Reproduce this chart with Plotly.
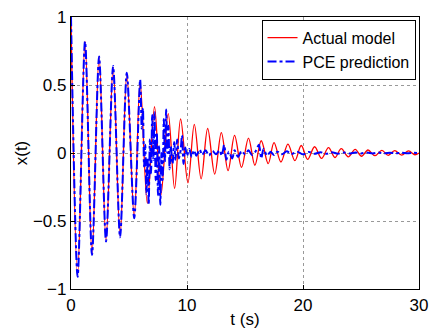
import plotly.graph_objects as go

# Actual model: extrema (time s, x(t))
red_t = [0.0, 0.57, 1.21, 1.81, 2.42, 3.02, 3.63, 4.23, 4.81, 5.45, 5.96, 6.58, 7.2, 7.75,
         8.38, 8.93, 9.45, 10.08, 10.63, 11.22, 11.78, 12.39, 12.96, 13.54, 14.1, 14.7,
         15.3, 15.85, 16.4, 17.0, 17.5, 18.1, 18.7, 19.3, 19.85, 20.4, 21.0, 21.6, 22.2,
         22.75, 23.3, 23.9, 24.5, 25.05, 25.6, 26.2, 26.8, 27.35, 27.9, 28.5, 29.1, 29.65, 30.0]
red_x = [1.0, -0.90, 0.82, -0.74, 0.71, -0.64, 0.63, -0.61, 0.58, -0.47, 0.52, -0.37, 0.34, -0.31,
         0.29, -0.26, 0.25, -0.22, 0.21, -0.19, 0.18, -0.155, 0.15, -0.13, 0.13, -0.105,
         0.11, -0.09, 0.09, -0.078, 0.077, -0.066, 0.065, -0.056, 0.055, -0.047, 0.046, -0.04, 0.039,
         -0.033, 0.032, -0.028, 0.027, -0.024, 0.022, -0.02, 0.019, -0.017, 0.017, -0.015, 0.015, -0.013, 0.0]

# PCE prediction
blue_t = [0.0, 0.57, 1.21, 1.81, 2.42, 3.02, 3.63, 4.23, 4.81, 5.45, 5.96,
          6.1, 6.2, 6.3, 6.4, 6.5, 6.6, 6.7, 6.8, 6.9, 7.0, 7.1, 7.2, 7.3, 7.4, 7.5, 7.6, 7.7,
          7.8, 7.9, 8.0, 8.1, 8.2, 8.3, 8.4, 8.5, 8.6, 8.75, 8.9, 9.0, 9.15, 9.3, 9.45, 9.57,
          9.7, 9.85, 10.0, 10.2, 10.4, 10.6, 10.8, 11.1, 11.3, 11.6, 11.9, 12.2, 12.5, 12.8,
          13.0, 13.2, 13.4, 13.6, 13.9, 14.1, 14.4, 14.7, 15.0, 15.3, 15.6, 15.9, 16.2, 16.4,
          16.6, 16.9, 17.2, 17.5, 17.8, 18.2, 18.6, 19.0, 19.5, 20.0, 20.5, 21.0, 21.5, 22.0,
          22.5, 23.0, 23.5, 24.0, 24.5, 25.0, 25.5, 26.0, 26.5, 27.0, 27.5, 28.0, 28.5, 29.0,
          29.5, 30.0]
blue_x = [1.0, -0.91, 0.82, -0.75, 0.71, -0.65, 0.64, -0.62, 0.59, -0.48, 0.54,
          0.18, 0.33, -0.1, 0.06, -0.3, -0.04, -0.38, 0.1, -0.15, 0.28, -0.05, 0.3, -0.2,
          0.15, -0.31, 0.05, -0.38, 0.0, -0.2, 0.25, -0.06, 0.32, 0.0, 0.2, -0.12, 0.05,
          -0.08, 0.08, -0.05, 0.1, -0.04, 0.02, 0.13, -0.08, 0.04, -0.02, 0.03, -0.03, 0.02,
          -0.02, 0.025, -0.015, 0.02, -0.02, 0.015, -0.01, 0.02, -0.02, 0.06, -0.05, 0.01,
          -0.04, 0.02, -0.03, 0.015, -0.01, 0.02, -0.015, 0.01, 0.06, -0.04, 0.03, -0.02,
          0.01, -0.015, 0.01, -0.01, 0.012, -0.008, 0.01, -0.01, 0.008, -0.006, 0.006, -0.006,
          0.005, -0.005, 0.004, -0.004, 0.004, -0.003, 0.003, -0.003, 0.003, -0.002, 0.002,
          -0.002, 0.002, -0.002, 0.001, 0.0]

x_ticks = [0, 10, 20, 30]
y_ticks = [-1, -0.5, 0, 0.5, 1]
y_tick_text = ["\u22121", "\u22120.5", "0", "0.5", "1"]

font = dict(family="Liberation Sans, Arial, Helvetica, sans-serif", size=17, color="black")
legend_font = dict(family="Liberation Sans, Arial, Helvetica, sans-serif", size=16, color="black")

fig = go.Figure()
fig.add_trace(go.Scatter(x=red_t, y=red_x, mode="lines", name="Actual model",
                         line=dict(color="red", width=1.3, shape="spline", smoothing=1.0)))
fig.add_trace(go.Scatter(x=blue_t, y=blue_x, mode="lines", name="PCE prediction",
                         line=dict(color="blue", width=2, dash="dashdot", shape="spline", smoothing=0.8)))

axis_common = dict(showline=True, linecolor="black", linewidth=1.2, mirror=True,
                   ticks="inside", ticklen=4, tickcolor="black",
                   showgrid=True, gridcolor="#999999", griddash="dot", gridwidth=1,
                   zeroline=False, tickfont=font, automargin=False)

fig.update_layout(
    width=429, height=329,
    margin=dict(l=71, r=10, t=17, b=40, autoexpand=False),
    paper_bgcolor="white", plot_bgcolor="white",
    font=font,
    xaxis=dict(range=[0, 30], tickvals=x_ticks, ticktext=[str(v) for v in x_ticks],
               title=dict(text="t (s)", font=font, standoff=0), **axis_common),
    yaxis=dict(range=[-1, 1], tickvals=y_ticks, ticktext=y_tick_text,
               title=dict(text="x(t)", font=font, standoff=0), **axis_common),
    legend=dict(x=0.99, y=0.99, xanchor="right", yanchor="top",
                bgcolor="white", bordercolor="black", borderwidth=1,
                font=legend_font, tracegroupgap=0, itemwidth=30),
    showlegend=True,
)

fig.write_html("out.html", config={"displayModeBar": False},
               post_script="document.body.style.margin='0';document.body.style.overflow='hidden';")
